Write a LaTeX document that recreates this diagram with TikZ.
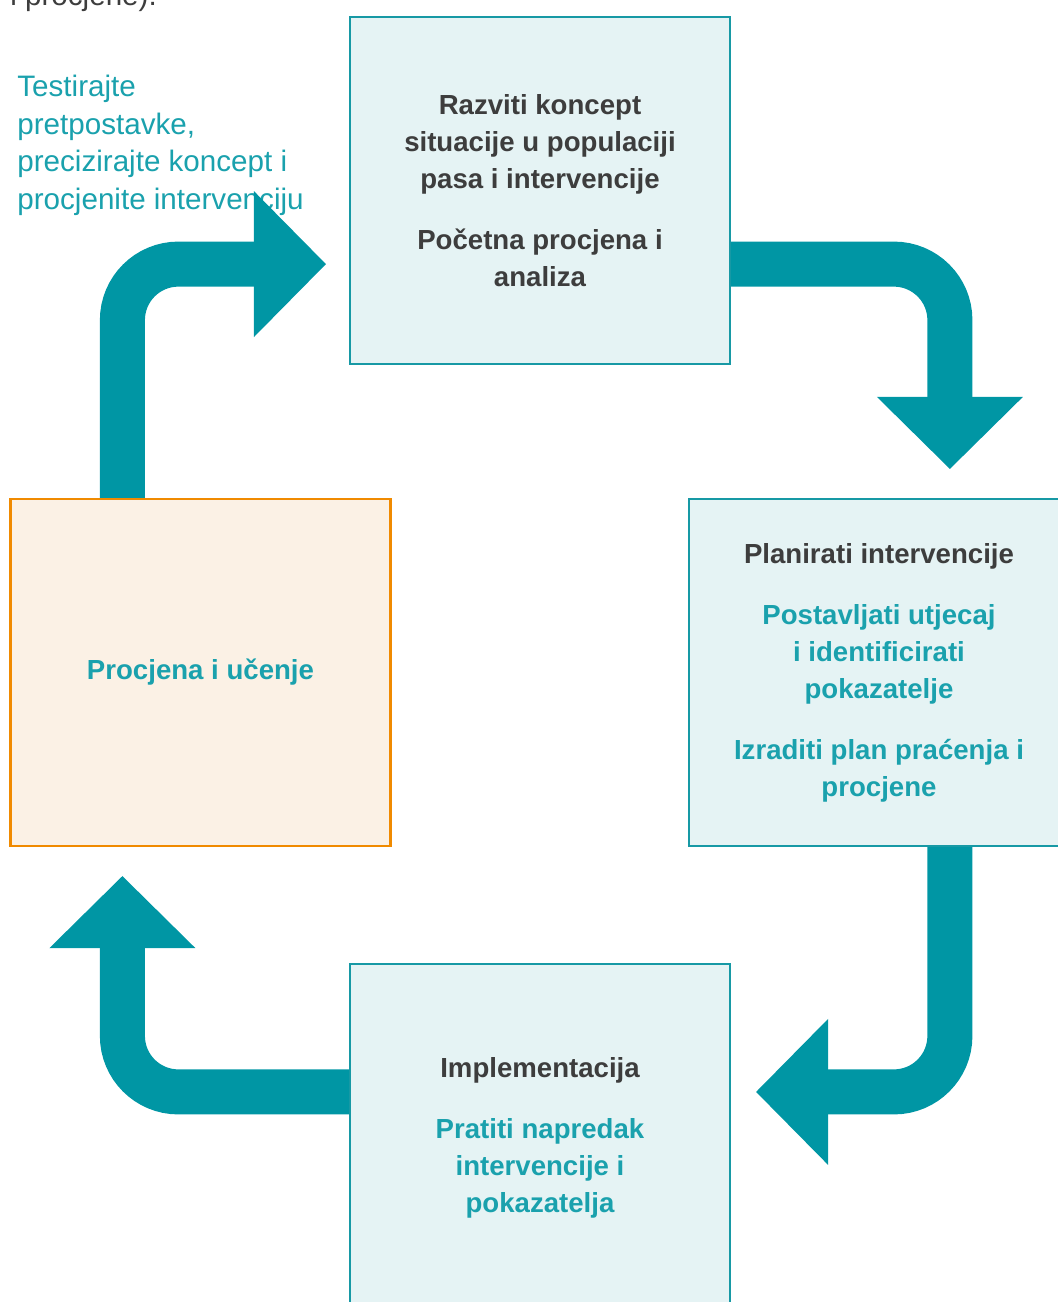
\documentclass[tikz,border=0pt]{standalone}
\usepackage{fontspec}
\setmainfont{Liberation Sans}
\usetikzlibrary{arrows.meta,calc,backgrounds}
\definecolor{cycleteal}{HTML}{0096A4}
\definecolor{boxedge}{HTML}{1799A5}
\definecolor{boxfill}{HTML}{E5F3F4}
\definecolor{warmedge}{HTML}{F08A00}
\definecolor{warmfill}{HTML}{FBF1E5}
\definecolor{darktext}{HTML}{3D3D3D}
\definecolor{tealtext}{HTML}{1AA1AD}

\begin{document}
\begin{tikzpicture}[
    x=0.5pt, y=-0.5pt,
    stagebox/.style={
      draw=#1, line width=1.1pt, minimum width=190pt, minimum height=173.5pt,
      inner sep=0pt, align=center, text=darktext,
      font=\fontsize{13.8}{18.5}\selectfont\bfseries
    },
    cyc/.style={
      draw=cycleteal, line width=22.5pt, rounded corners=28pt,
      -{Triangle[length=36pt,width=73pt,line width=0pt]}
    },
  ]
  \useasboundingbox (0,0) rectangle (1058,1302);
  \clip (0,0) rectangle (1058,1302);

  % =================== Stages ===================
  \node[stagebox=boxedge, fill=boxfill] (concept) at (540,190.5) {
    Razviti koncept\\situacije u populaciji\\pasa i intervencije\\[12pt]
    Početna procjena i\\analiza};
  \node[stagebox=boxedge, fill=boxfill] (planning) at (879,672.5) {
    Planirati intervencije\\[12pt]
    \textcolor{tealtext}{Postavljati utjecaj}\\
    \textcolor{tealtext}{i identificirati}\\
    \textcolor{tealtext}{pokazatelje}\\[12pt]
    \textcolor{tealtext}{Izraditi plan praćenja i}\\
    \textcolor{tealtext}{procjene}};
  \node[stagebox=boxedge, fill=boxfill] (implement) at (540,1137.5) {
    Implementacija\\[12pt]
    \textcolor{tealtext}{Pratiti napredak}\\
    \textcolor{tealtext}{intervencije i}\\
    \textcolor{tealtext}{pokazatelja}};
  \node[stagebox=warmedge, fill=warmfill, text=tealtext] (learning) at (200.5,672.5) {Procjena i učenje};

  % cut-off line at the top
  \node[anchor=base west, inner sep=0pt, text=darktext, font=\fontsize{14.8}{18.75}\selectfont] (topline) at (10,5) {i procjene).};

  % =================== Cycle arrows ===================
  \begin{scope}[on background layer]
    \node[anchor=base west, inner sep=0pt, align=left, text=tealtext,
      font=\fontsize{14.8}{18.75}\selectfont] (testnote) at (17,209) {
      Testirajte\\pretpostavke,\\precizirajte koncept i\\procjenite intervenciju};

    \coordinate (a1) at ($(concept.south east)+(0,-101)$);
    \coordinate (b1) at ($(planning.north west)+(262,-29)$);
    \coordinate (a2) at ($(planning.south west)+(262,0)$);
    \coordinate (b2) at ($(implement.north east)+(25,129)$);
    \coordinate (a3) at ($(implement.north west)+(0,129)$);
    \coordinate (b3) at ($(learning.south west)+(113,29)$);
    \coordinate (a4) at ($(learning.north west)+(113,0)$);
    \coordinate (b4) at ($(concept.south west)+(-23,-101)$);

    \draw[cyc] (a1) -| (b1);
    \draw[cyc] (a2) |- (b2);
    \draw[cyc] (a3) -| (b3);
    \draw[cyc] (a4) |- (b4);
  \end{scope}

\end{tikzpicture}
\end{document}
